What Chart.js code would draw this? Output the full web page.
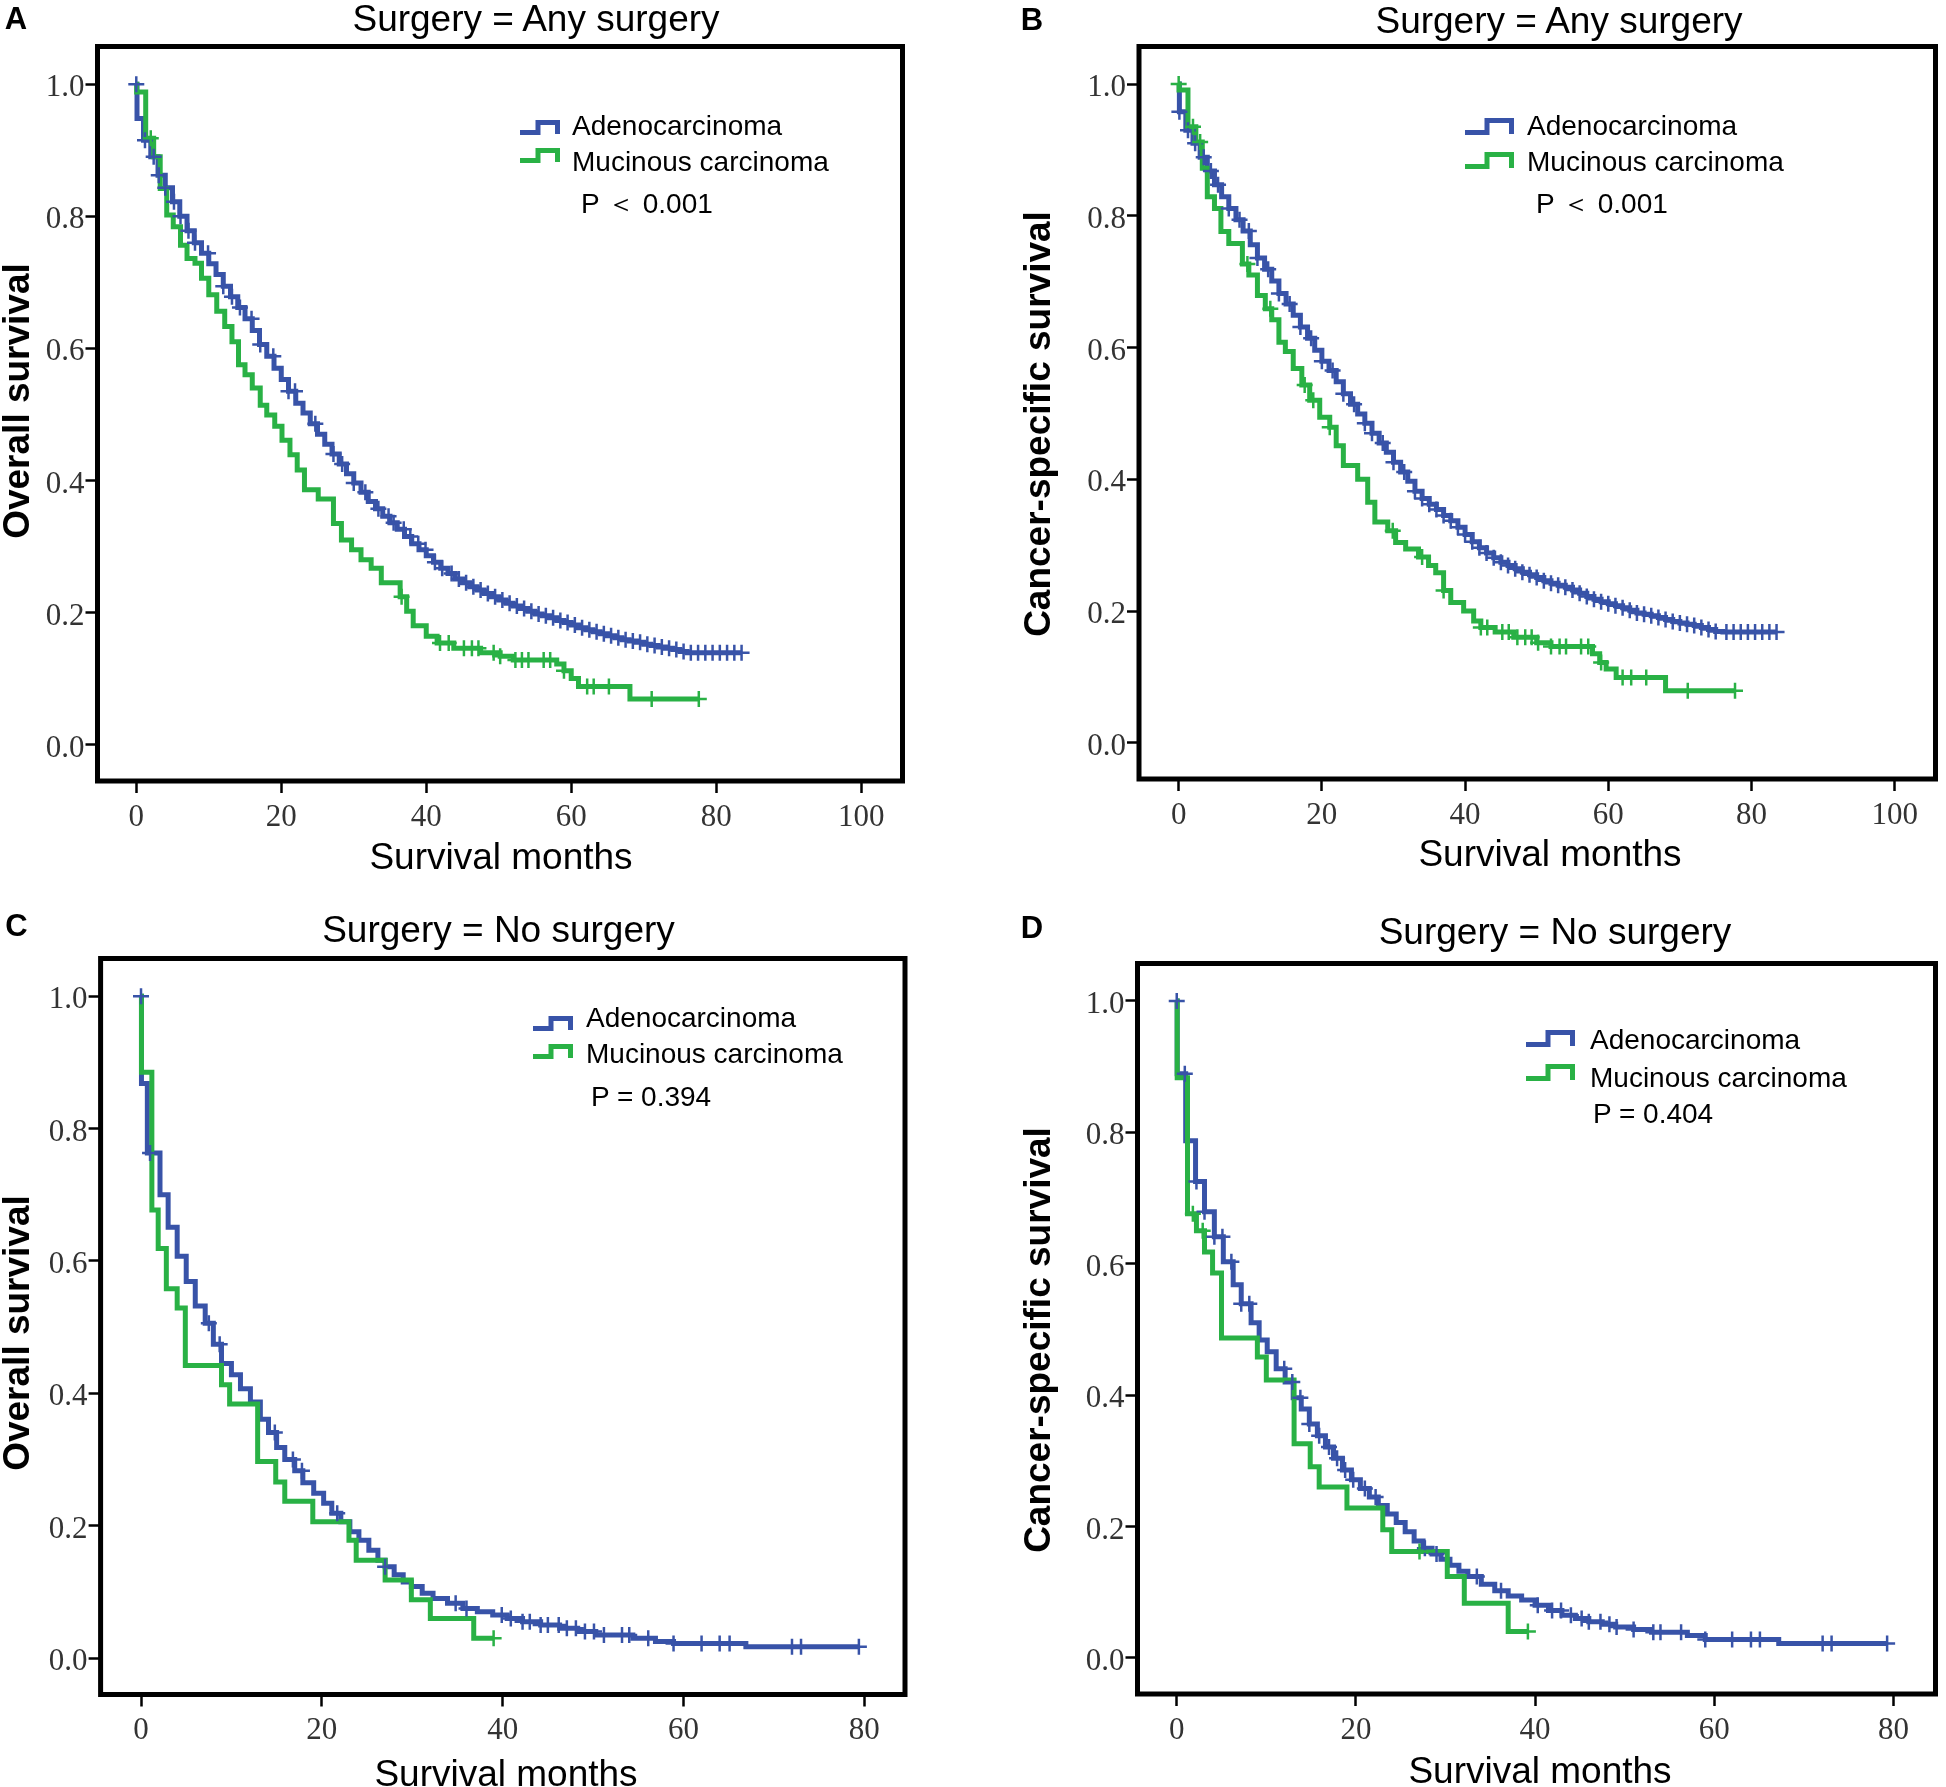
<!DOCTYPE html>
<html>
<head>
<meta charset="utf-8">
<title>Kaplan-Meier survival by histology and surgery</title>
<script src="https://cdn.jsdelivr.net/npm/chart.js@4.4.1/dist/chart.umd.min.js"></script>
<style>
  html, body { margin: 0; background: #fff; }
  #figure { position: relative; width: 1946px; height: 1787px; overflow: hidden;
            font-family: "Liberation Sans", Arial, sans-serif; color: #000; }
  .panel { position: absolute; }
  .panel canvas { display: block; }
  .txt { position: absolute; white-space: nowrap; line-height: 1; }
  .letter { font-weight: bold; font-size: 31px; transform: translate(-50%, -50%); }
  .title { font-size: 37px; transform: translate(-50%, -50%); }
  .xtitle { font-size: 37px; transform: translate(-50%, -50%); }
  .ytitle { font-size: 37px; font-weight: bold; transform: translate(-50%, -50%) rotate(-90deg); }
  .legend { font-size: 28px; transform: translate(0, -50%); }
  .icon { position: absolute; overflow: visible; }
</style>
</head>
<body>
<div id="figure"></div>
<script>
/* Four Kaplan-Meier panels (SPSS-style). Step curves + censor crosses go
   through Chart.js linear scales; the frame box is a small plugin and the
   titles/legends are plain positioned text around each canvas. */

// ---- data ----
var seriesNames = ["Adenocarcinoma", "Mucinous carcinoma"];
var panelLetters = ["A", "B", "C", "D"];
var panelTitles = ["Surgery = Any surgery", "Surgery = Any surgery", "Surgery = No surgery", "Surgery = No surgery"];
var yTitles = ["Overall survival", "Cancer-specific survival", "Overall survival", "Cancer-specific survival"];
var xTitle = "Survival months";
var pValues = ["P \uFF1C 0.001", "P \uFF1C 0.001", "P = 0.394", "P = 0.404"];

var survTicks = [0, 0.2, 0.4, 0.6, 0.8, 1.0];
var monthTicks100 = [0, 20, 40, 60, 80, 100];
var monthTicks80 = [0, 20, 40, 60, 80];

// A: overall survival, any surgery
var aAdenoTime = [0, 0.1, 1, 2, 3, 4, 5, 6, 7, 8, 9, 10, 11, 12, 13, 14, 15, 16, 17, 18, 19, 20, 21, 22, 23, 24, 25, 26, 27, 28, 29, 30, 31, 32, 33, 34, 35, 36, 37, 38, 39, 40, 41, 42, 43, 44, 45, 46, 47, 48, 49, 50, 51, 52, 53, 54, 55, 56, 57, 58, 59, 60, 61, 62, 63, 64, 65, 66, 67, 68, 69, 70, 71, 72, 73, 74, 75, 76, 83.5];
var aAdenoSurv = [1.0, 0.948, 0.915, 0.89, 0.862, 0.843, 0.822, 0.80, 0.778, 0.76, 0.744, 0.728, 0.712, 0.694, 0.678, 0.662, 0.645, 0.627, 0.606, 0.588, 0.57, 0.553, 0.535, 0.517, 0.502, 0.486, 0.47, 0.455, 0.44, 0.425, 0.41, 0.396, 0.382, 0.368, 0.357, 0.346, 0.336, 0.326, 0.315, 0.304, 0.295, 0.286, 0.276, 0.267, 0.259, 0.251, 0.245, 0.239, 0.234, 0.229, 0.224, 0.219, 0.214, 0.21, 0.206, 0.202, 0.198, 0.195, 0.192, 0.188, 0.185, 0.181, 0.177, 0.174, 0.171, 0.168, 0.165, 0.162, 0.159, 0.157, 0.155, 0.152, 0.15, 0.148, 0.146, 0.144, 0.141, 0.139, 0.139];
var aAdenoCensor = [0, 1.2, 2.4, 3.1, 4.0, 5.2, 6.1, 7.2, 8.1, 9.9, 12.0, 13.2, 14.3, 15.9, 17.1, 18.9, 21.0, 21.9, 24.7, 27.2, 28.4, 30.0, 31.6, 33.4, 34.8, 35.5, 36.9, 37.8, 38.9, 39.9, 41.2, 42.2, 43.5, 44.5, 45.5, 46.5, 47.5, 48.5, 49.5, 50.5, 51.5, 52.5, 53.5, 54.5, 55.5, 56.5, 57.5, 58.5, 59.5, 60.5, 61.5, 62.5, 63.5, 64.5, 65.5, 66.5, 67.5, 68.5, 69.5, 70.5, 71.5, 72.5, 73.5, 74.5, 75.5, 76.5, 77.5, 78.5, 79.5, 80.5, 81.5, 82.5, 83.5];
var aMucTime = [0, 0.05, 1.3, 2.4, 3.3, 4.2, 5.1, 6.1, 7.0, 8.1, 9.0, 10.0, 11.1, 12.2, 13.2, 14.1, 15.0, 16.0, 17.1, 18.0, 19.1, 20.1, 21.2, 22.2, 23.2, 25.1, 27.2, 28.3, 29.7, 31.0, 32.4, 33.8, 36.4, 37.3, 38.2, 40.0, 41.5, 43.8, 47.5, 50.2, 52.0, 58.0, 59.0, 60.0, 61.0, 68.1, 77.6];
var aMucSurv = [1.0, 0.988, 0.918, 0.89, 0.842, 0.802, 0.784, 0.756, 0.736, 0.729, 0.706, 0.681, 0.656, 0.633, 0.61, 0.575, 0.56, 0.54, 0.514, 0.499, 0.482, 0.461, 0.439, 0.416, 0.386, 0.372, 0.335, 0.31, 0.295, 0.28, 0.267, 0.245, 0.224, 0.202, 0.18, 0.164, 0.154, 0.146, 0.139, 0.134, 0.128, 0.122, 0.112, 0.1, 0.088, 0.069, 0.069];
var aMucCensor = [2.0, 36.6, 41.9, 43.1, 45.2, 46.3, 47.2, 49.3, 50.2, 52.3, 53.2, 54.1, 56.2, 57.1, 59.0, 62.2, 63.1, 65.2, 71.1, 77.6];

// B: cancer-specific survival, any surgery
var bAdenoTime = [0, 0.1, 1, 2, 3, 4, 5, 6, 7, 8, 9, 10, 11, 12, 13, 14, 15, 16, 17, 18, 19, 20, 21, 22, 23, 24, 25, 26, 27, 28, 29, 30, 31, 32, 33, 34, 35, 36, 37, 38, 39, 40, 41, 42, 43, 44, 45, 46, 47, 48, 49, 50, 51, 52, 53, 54, 55, 56, 57, 58, 59, 60, 61, 62, 63, 64, 65, 66, 67, 68, 69, 70, 71, 72, 73, 74, 75, 76, 83.5];
var bAdenoSurv = [1.0, 0.958, 0.93, 0.91, 0.889, 0.868, 0.847, 0.829, 0.811, 0.794, 0.777, 0.756, 0.736, 0.719, 0.701, 0.682, 0.666, 0.649, 0.631, 0.614, 0.596, 0.579, 0.565, 0.548, 0.53, 0.514, 0.499, 0.485, 0.47, 0.455, 0.441, 0.426, 0.411, 0.397, 0.382, 0.371, 0.362, 0.354, 0.345, 0.337, 0.327, 0.316, 0.305, 0.296, 0.288, 0.281, 0.274, 0.269, 0.264, 0.259, 0.255, 0.251, 0.246, 0.242, 0.239, 0.236, 0.232, 0.227, 0.222, 0.218, 0.214, 0.211, 0.208, 0.205, 0.201, 0.197, 0.195, 0.193, 0.19, 0.187, 0.184, 0.182, 0.18, 0.178, 0.175, 0.172, 0.169, 0.168, 0.168];
var bAdenoCensor = [0.1, 1.3, 2.3, 3.5, 4.5, 5.5, 7.0, 8.5, 9.8, 11.0, 12.5, 14.0, 15.5, 17.0, 18.5, 20.0, 21.5, 23.0, 24.5, 26.0, 27.0, 28.5, 30.0, 31.5, 33.0, 34.0, 35.0, 36.0, 37.0, 38.0, 39.0, 40.0, 41.0, 42.0, 43.0, 44.0, 45.0, 46.0, 47.0, 48.0, 49.0, 50.0, 51.0, 52.0, 53.0, 54.0, 55.0, 56.0, 57.0, 58.0, 59.0, 60.0, 61.0, 62.0, 63.0, 64.0, 65.0, 66.0, 67.0, 68.0, 69.0, 70.0, 71.0, 72.0, 73.0, 74.0, 75.0, 76.5, 77.5, 78.5, 79.5, 80.5, 81.5, 82.5, 83.5];
var bMucTime = [0, 0.05, 1.3, 2.4, 3.3, 4.0, 5.0, 5.9, 7.0, 8.9, 9.8, 11.0, 12.1, 13.0, 14.0, 14.9, 16.0, 17.2, 18.3, 19.7, 21.1, 22.0, 23.0, 25.0, 26.4, 27.4, 29.2, 30.3, 31.7, 33.5, 34.9, 35.9, 37.0, 38.0, 39.8, 41.2, 42.2, 44.2, 46.8, 50.0, 52.0, 57.8, 58.8, 59.7, 61.1, 68.0, 77.7];
var bMucSurv = [1.0, 0.991, 0.935, 0.912, 0.872, 0.829, 0.811, 0.776, 0.758, 0.727, 0.71, 0.679, 0.659, 0.642, 0.608, 0.594, 0.568, 0.543, 0.52, 0.494, 0.479, 0.451, 0.421, 0.40, 0.365, 0.335, 0.322, 0.304, 0.294, 0.282, 0.269, 0.258, 0.231, 0.213, 0.2, 0.185, 0.175, 0.168, 0.16, 0.152, 0.146, 0.135, 0.122, 0.112, 0.099, 0.079, 0.079];
var bMucCensor = [0, 2.0, 3.0, 9.6, 12.8, 17.6, 18.8, 21.1, 29.9, 34.0, 37.0, 42.2, 43.1, 45.2, 46.1, 47.3, 48.4, 49.3, 50.2, 52.0, 53.2, 54.1, 56.2, 57.2, 59.0, 62.0, 63.2, 65.3, 71.1, 77.7];

// C: overall survival, no surgery
var cAdenoTime = [0, 0.05, 0.7, 2.1, 3.0, 4.0, 5.0, 6.0, 7.1, 8.0, 8.9, 10.0, 11.0, 12.1, 13.2, 14.1, 15.0, 15.9, 17.0, 17.9, 19.1, 20.2, 21.1, 22.1, 23.1, 24.1, 25.2, 26.2, 27.0, 28.0, 29.0, 29.9, 31.1, 32.3, 33.9, 35.6, 37.2, 38.9, 40.5, 42.2, 44.2, 46.3, 48.3, 50.3, 54.4, 56.9, 58.9, 66.9, 79.4];
var cAdenoSurv = [1.0, 0.868, 0.763, 0.70, 0.651, 0.607, 0.569, 0.532, 0.506, 0.474, 0.445, 0.428, 0.407, 0.387, 0.361, 0.341, 0.318, 0.30, 0.283, 0.265, 0.249, 0.234, 0.219, 0.206, 0.191, 0.178, 0.163, 0.148, 0.138, 0.126, 0.115, 0.108, 0.098, 0.09, 0.083, 0.075, 0.07, 0.065, 0.06, 0.055, 0.05, 0.045, 0.04, 0.035, 0.03, 0.025, 0.022, 0.017, 0.017];
var cAdenoCensor = [0, 1.0, 7.5, 8.7, 14.8, 16.8, 17.8, 21.7, 27.0, 34.8, 36.0, 39.9, 40.9, 42.2, 43.0, 44.2, 45.0, 46.2, 47.1, 48.1, 49.1, 50.1, 51.2, 53.2, 54.0, 56.1, 58.9, 62.0, 64.0, 65.1, 72.0, 73.0, 79.4];
var cMucTime = [0, 0.05, 1.2, 1.9, 2.8, 4.0, 4.9, 8.9, 9.8, 12.9, 14.9, 15.9, 19.0, 23.0, 23.8, 27.0, 29.9, 32.0, 36.8, 39.0];
var cMucSurv = [1.0, 0.885, 0.677, 0.619, 0.558, 0.529, 0.442, 0.413, 0.384, 0.297, 0.266, 0.237, 0.206, 0.178, 0.148, 0.118, 0.088, 0.06, 0.03, 0.03];
var cMucCensor = [39.0];

// D: cancer-specific survival, no surgery
var dAdenoTime = [0, 0.05, 1.0, 2.1, 3.1, 4.2, 5.2, 6.3, 7.2, 8.3, 9.2, 10.1, 11.1, 12.1, 13.0, 13.9, 14.8, 15.7, 16.6, 17.5, 18.5, 19.5, 20.5, 21.5, 22.5, 23.5, 24.5, 25.5, 26.5, 27.5, 28.5, 29.5, 30.5, 31.5, 32.5, 34.0, 35.5, 37.0, 38.5, 40.0, 41.5, 43.0, 44.5, 46.0, 47.5, 49.0, 51.0, 53.0, 57.0, 59.0, 67.2, 79.3];
var dAdenoSurv = [1.0, 0.889, 0.787, 0.725, 0.679, 0.641, 0.603, 0.568, 0.539, 0.51, 0.484, 0.466, 0.44, 0.42, 0.396, 0.379, 0.356, 0.338, 0.321, 0.304, 0.286, 0.271, 0.258, 0.245, 0.232, 0.219, 0.206, 0.192, 0.178, 0.167, 0.158, 0.15, 0.141, 0.132, 0.124, 0.112, 0.102, 0.094, 0.088, 0.08, 0.072, 0.065, 0.06, 0.055, 0.051, 0.047, 0.043, 0.039, 0.034, 0.028, 0.022, 0.022];
var dAdenoCensor = [0, 0.9, 2.2, 3.1, 4.2, 5.1, 6.1, 7.2, 8.1, 12.0, 12.9, 13.8, 14.8, 15.9, 17.0, 17.9, 18.8, 19.7, 21.0, 22.2, 27.7, 29.0, 33.5, 36.2, 40.3, 41.9, 42.9, 44.0, 45.2, 46.0, 47.3, 48.3, 49.1, 51.0, 53.2, 54.0, 56.3, 59.0, 62.0, 64.1, 65.1, 72.1, 73.1, 79.3];
var dMucTime = [0, 0.05, 1.2, 2.2, 3.1, 4.0, 5.0, 9.0, 10.0, 13.1, 14.9, 15.9, 19.0, 23.0, 24.0, 30.2, 32.1, 37.0, 39.2];
var dMucSurv = [1.0, 0.883, 0.676, 0.65, 0.618, 0.586, 0.487, 0.458, 0.423, 0.326, 0.291, 0.26, 0.228, 0.195, 0.162, 0.124, 0.083, 0.04, 0.04];
var dMucCensor = [1.8, 2.9, 27.1, 39.2];

// ---- layout (page pixels) ----
var BLUE = "#3853a8";
var GREEN = "#29b145";
var Y_AXIS_W = 97.5;
var X_AXIS_H = 80;

var panelLayout = [
  { box: [0, 0, 973, 893], area: [97.5, 46.5, 902.5, 781], xRange: [-5.35, 105.7], xTicks: monthTicks100,
    adeno: [aAdenoTime, aAdenoSurv, aAdenoCensor], muc: [aMucTime, aMucSurv, aMucCensor],
    letter: [16, 18], title: [536, 17.5], yTitle: [16, 401], xTitle: [501, 856],
    icon: { left: 520, w: 40, h: 15, tops: [120, 148] }, text: { left: 572, ys: [126, 162] }, p: [581, 204] },
  { box: [973, 0, 973, 893], area: [1139, 46.5, 1942.5, 779], xRange: [-5.54, 105.7], xTicks: monthTicks100,
    adeno: [bAdenoTime, bAdenoSurv, bAdenoCensor], muc: [bMucTime, bMucSurv, bMucCensor],
    letter: [1032, 19], title: [1559, 19.5], yTitle: [1037, 424], xTitle: [1550, 853],
    icon: { left: 1465, w: 49, h: 17, tops: [118, 152] }, text: { left: 1527, ys: [125.5, 162] }, p: [1536, 204] },
  { box: [0, 893, 973, 894], area: [100.6, 958.5, 905, 1694.5], xRange: [-4.47, 84.5], xTicks: monthTicks80,
    adeno: [cAdenoTime, cAdenoSurv, cAdenoCensor], muc: [cMucTime, cMucSurv, cMucCensor],
    letter: [16.5, 925], title: [498.5, 929], yTitle: [16, 1333], xTitle: [506, 1773],
    icon: { left: 533, w: 40, h: 15, tops: [1016, 1044] }, text: { left: 586, ys: [1018, 1053.5] }, p: [591, 1096.5] },
  { box: [973, 893, 973, 894], area: [1137.5, 963.5, 1940.5, 1694], xRange: [-4.38, 84.7], xTicks: monthTicks80,
    adeno: [dAdenoTime, dAdenoSurv, dAdenoCensor], muc: [dMucTime, dMucSurv, dMucCensor],
    letter: [1032, 926.5], title: [1555, 931], yTitle: [1037, 1340], xTitle: [1540, 1769.5],
    icon: { left: 1526, w: 49, h: 17, tops: [1030, 1064] }, text: { left: 1590, ys: [1039.5, 1077.5] }, p: [1593, 1114] }
];

// ---- helpers ----
function stepValueAt(times, surv, t) {
  var v = surv[0];
  for (var i = 0; i < times.length; i++) {
    if (times[i] <= t) v = surv[i]; else break;
  }
  return v;
}

function curvePoints(series) {
  return series[0].map(function (t, i) { return { x: t, y: series[1][i] }; });
}

// censor crosses sit on the curve at the censoring time
function censorPoints(series) {
  return series[2].map(function (t) { return { x: t, y: stepValueAt(series[0], series[1], t) }; });
}

var frameBox = {
  id: "frameBox",
  afterDatasetsDraw: function (chart) {
    var a = chart.chartArea;
    var ctx = chart.ctx;
    ctx.save();
    ctx.lineWidth = 5;
    ctx.strokeStyle = "#000";
    ctx.strokeRect(a.left, a.top, a.right - a.left, a.bottom - a.top);
    ctx.restore();
  },
};

function addText(parent, cls, text, x, y) {
  var el = document.createElement("div");
  el.className = "txt " + cls;
  el.textContent = text;
  el.style.left = x + "px";
  el.style.top = y + "px";
  parent.appendChild(el);
  return el;
}

function addIcon(parent, left, top, w, h, color) {
  var ns = "http://www.w3.org/2000/svg";
  var svg = document.createElementNS(ns, "svg");
  svg.setAttribute("class", "icon");
  svg.setAttribute("width", w);
  svg.setAttribute("height", h);
  svg.style.left = left + "px";
  svg.style.top = top + "px";
  var path = document.createElementNS(ns, "path");
  var mid = Math.round(w * 0.45);
  path.setAttribute("d", "M0 " + (h - 2.5) + " H" + mid + " V2.5 H" + (w - 2.5) + " V" + (h - 1));
  path.setAttribute("fill", "none");
  path.setAttribute("stroke", color);
  path.setAttribute("stroke-width", "5");
  svg.appendChild(path);
  parent.appendChild(svg);
}

function lineDataset(series, color) {
  return {
    data: curvePoints(series),
    borderColor: color,
    borderWidth: 5,
    stepped: "before",
    pointRadius: 0,
    fill: false,
    tension: 0,
    borderCapStyle: "butt",
    borderJoinStyle: "miter",
  };
}

function censorDataset(series, color) {
  return {
    data: censorPoints(series),
    showLine: false,
    pointStyle: "cross",
    pointRadius: 8,
    pointBorderWidth: 2.5,
    pointBorderColor: color,
    pointBackgroundColor: color,
  };
}

function buildPanel(figure, p, idx) {
  var holder = document.createElement("div");
  holder.className = "panel";
  holder.style.left = p.box[0] + "px";
  holder.style.top = p.box[1] + "px";
  var canvas = document.createElement("canvas");
  canvas.width = p.box[2];
  canvas.height = p.box[3];
  canvas.style.width = p.box[2] + "px";
  canvas.style.height = p.box[3] + "px";
  holder.appendChild(canvas);
  figure.appendChild(holder);

  var left = p.area[0] - p.box[0];
  var top = p.area[1] - p.box[1];
  var right = p.area[2] - p.box[0];
  var bottom = p.area[3] - p.box[1];

  var tickFont = { family: "'Liberation Serif', 'Times New Roman', serif", size: 31, lineHeight: 1.2 };
  var grid = { drawOnChartArea: false, drawTicks: true, tickLength: 12, tickWidth: 2.5, tickColor: "#000" };

  new Chart(canvas, {
    type: "line",
    data: {
      datasets: [
        censorDataset(p.muc, GREEN),
        censorDataset(p.adeno, BLUE),
        lineDataset(p.muc, GREEN),
        lineDataset(p.adeno, BLUE),
      ],
    },
    options: {
      responsive: false,
      devicePixelRatio: 1,
      animation: false,
      events: [],
      layout: { padding: { left: left - Y_AXIS_W, top: top, right: p.box[2] - right, bottom: p.box[3] - bottom - X_AXIS_H } },
      scales: {
        x: {
          type: "linear",
          min: p.xRange[0],
          max: p.xRange[1],
          afterFit: function (s) { s.height = X_AXIS_H; },
          afterBuildTicks: function (s) { s.ticks = p.xTicks.map(function (v) { return { value: v }; }); },
          grid: grid,
          border: { display: false },
          ticks: { autoSkip: false, maxRotation: 0, padding: 6, color: "#333", font: tickFont,
                   callback: function (v) { return String(v); } },
        },
        y: {
          type: "linear",
          min: -0.055,
          max: 1.057,
          afterFit: function (s) { s.width = Y_AXIS_W; },
          afterBuildTicks: function (s) { s.ticks = survTicks.map(function (v) { return { value: v }; }); },
          grid: grid,
          border: { display: false },
          ticks: { autoSkip: false, padding: 1, labelOffset: 4, color: "#333", font: tickFont,
                   callback: function (v) { return Number(v).toFixed(1); } },
        },
      },
      plugins: { legend: { display: false }, tooltip: { enabled: false }, title: { display: false } },
    },
    plugins: [frameBox],
  });

  addText(figure, "letter", panelLetters[idx], p.letter[0], p.letter[1]);
  addText(figure, "title", panelTitles[idx], p.title[0], p.title[1]);
  addText(figure, "ytitle", yTitles[idx], p.yTitle[0], p.yTitle[1]);
  addText(figure, "xtitle", xTitle, p.xTitle[0], p.xTitle[1]);
  addIcon(figure, p.icon.left, p.icon.tops[0], p.icon.w, p.icon.h, BLUE);
  addIcon(figure, p.icon.left, p.icon.tops[1], p.icon.w, p.icon.h, GREEN);
  addText(figure, "legend", seriesNames[0], p.text.left, p.text.ys[0]);
  addText(figure, "legend", seriesNames[1], p.text.left, p.text.ys[1]);
  addText(figure, "legend", pValues[idx], p.p[0], p.p[1]);
}

var figure = document.getElementById("figure");
panelLayout.forEach(function (p, i) { buildPanel(figure, p, i); });
</script>
</body>
</html>
